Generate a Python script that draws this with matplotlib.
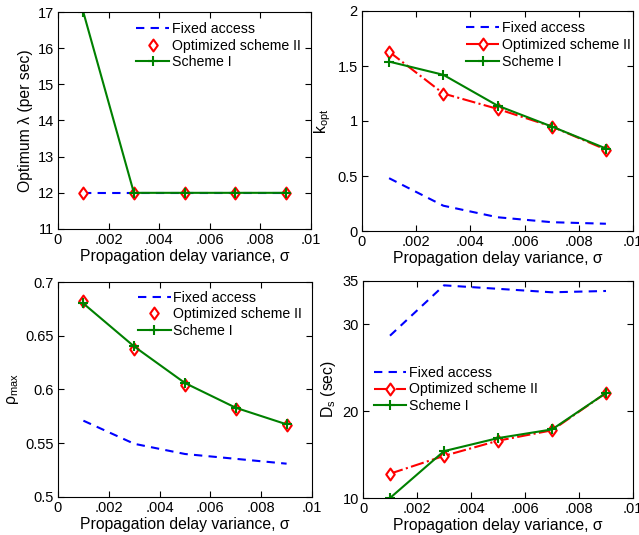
import matplotlib
matplotlib.use("Agg")
import matplotlib.pyplot as plt
from matplotlib.path import Path

plt.rcParams['font.family'] = ['Liberation Sans', 'DejaVu Sans']
plt.rcParams['font.size'] = 10
plt.rcParams['mathtext.fontset'] = 'custom'
plt.rcParams['mathtext.rm'] = 'Liberation Sans'
plt.rcParams['mathtext.it'] = 'Liberation Sans'

W, H = 639, 535

sigma = [0.001, 0.003, 0.005, 0.007, 0.009]
xticks = [0, 0.002, 0.004, 0.006, 0.008, 0.01]
xticklabels = ['0', '.002', '.004', '.006', '.008', '.01']

# optimum lambda
lam_fixed = [12, 12, 12, 12, 12]
lam_opt2 = [12, 12, 12, 12, 12]
lam_scheme1 = [17, 12, 12, 12, 12]

# k_opt
k_fixed = [0.48, 0.23, 0.125, 0.08, 0.066]
k_opt2 = [1.63, 1.25, 1.11, 0.95, 0.74]
k_scheme1 = [1.54, 1.42, 1.14, 0.95, 0.75]

# rho_max
rho_fixed = [0.571, 0.5495, 0.540, 0.5355, 0.531]
rho_opt2 = [0.6826, 0.6377, 0.6045, 0.5815, 0.5667]
rho_scheme1 = [0.680, 0.640, 0.606, 0.583, 0.5676]

# D_s
ds_fixed = [28.7, 34.5, 34.1, 33.7, 33.85]
ds_opt2 = [12.8, 14.85, 16.6, 17.8, 22.1]
ds_scheme1 = [10.0, 15.4, 16.9, 17.9, 22.1]

blue = '#0000ff'
red = '#ff0000'
green = '#008000'

diamond = Path([(0, 1), (0.72, 0), (0, -1), (-0.72, 0), (0, 1)],
               [Path.MOVETO, Path.LINETO, Path.LINETO, Path.LINETO, Path.CLOSEPOLY])

fig = plt.figure(figsize=(W / 100, H / 100), dpi=100)


def box(l, t, w, h):
    return [l / W, 1 - (t + h) / H, w / W, h / H]


def panel(rect, fixed, opt2, scheme1, opt_line, ylim, yticks, yticklabels, ylabel, leg_anchor):
    ax = fig.add_axes(rect)
    ax.plot(sigma, fixed, '--', color=blue, lw=1.5, dashes=(4, 3), label='Fixed access')
    if opt_line:
        ax.plot(sigma, opt2, '-.', color=red, lw=1.5, marker=diamond, ms=8.5,
                mfc='white', mec=red, mew=1.5, label='Optimized scheme II')
    else:
        ax.plot(sigma, opt2, ls='none', marker=diamond, ms=8.5,
                mfc='white', mec=red, mew=1.5, label='Optimized scheme II')
    ax.plot(sigma, scheme1, '-', color=green, lw=1.5, marker='+', ms=7, mew=1.5,
            label='Scheme I')
    ax.set_xlim(0, 0.01)
    ax.set_ylim(*ylim)
    ax.set_xticks(xticks)
    ax.set_xticklabels(xticklabels)
    ax.set_yticks(yticks)
    ax.set_yticklabels(yticklabels)
    ax.tick_params(direction='in', top=True, right=True, length=4, labelsize=10.5, pad=3)
    ax.set_xlabel('Propagation delay variance, σ', fontsize=11.3, labelpad=1)
    ax.set_ylabel(ylabel, fontsize=11.3, labelpad=3)
    ax.legend(loc='upper left', bbox_to_anchor=leg_anchor, frameon=False,
              fontsize=10.2, handlelength=2.3, handletextpad=0.2,
              labelspacing=0.2, borderaxespad=0, borderpad=0)
    return ax


panel(box(58, 12, 253, 217), lam_fixed, lam_opt2, lam_scheme1, False,
      (11, 17), [11, 12, 13, 14, 15, 16, 17], ['11', '12', '13', '14', '15', '16', '17'],
      'Optimum λ (per sec)', (0.31, 0.955))

panel(box(362, 11, 271, 220), k_fixed, k_opt2, k_scheme1, True,
      (0, 2), [0, 0.5, 1, 1.5, 2], ['0', '0.5', '1', '1.5', '2'],
      r'$\mathregular{k_{opt}}$', (0.385, 0.955))

panel(box(58, 282, 254, 215), rho_fixed, rho_opt2, rho_scheme1, False,
      (0.5, 0.7), [0.5, 0.55, 0.6, 0.65, 0.7], ['0.5', '0.55', '0.6', '0.65', '0.7'],
      r'$\mathregular{\rho_{max}}$', (0.315, 0.96))

panel(box(363, 281, 270, 217), ds_fixed, ds_opt2, ds_scheme1, True,
      (10, 35), [10, 20, 30, 35], ['10', '20', '30', '35'],
      r'$\mathregular{D_s}$ (sec)', (0.04, 0.61))

fig.savefig('out.png', dpi=100)
